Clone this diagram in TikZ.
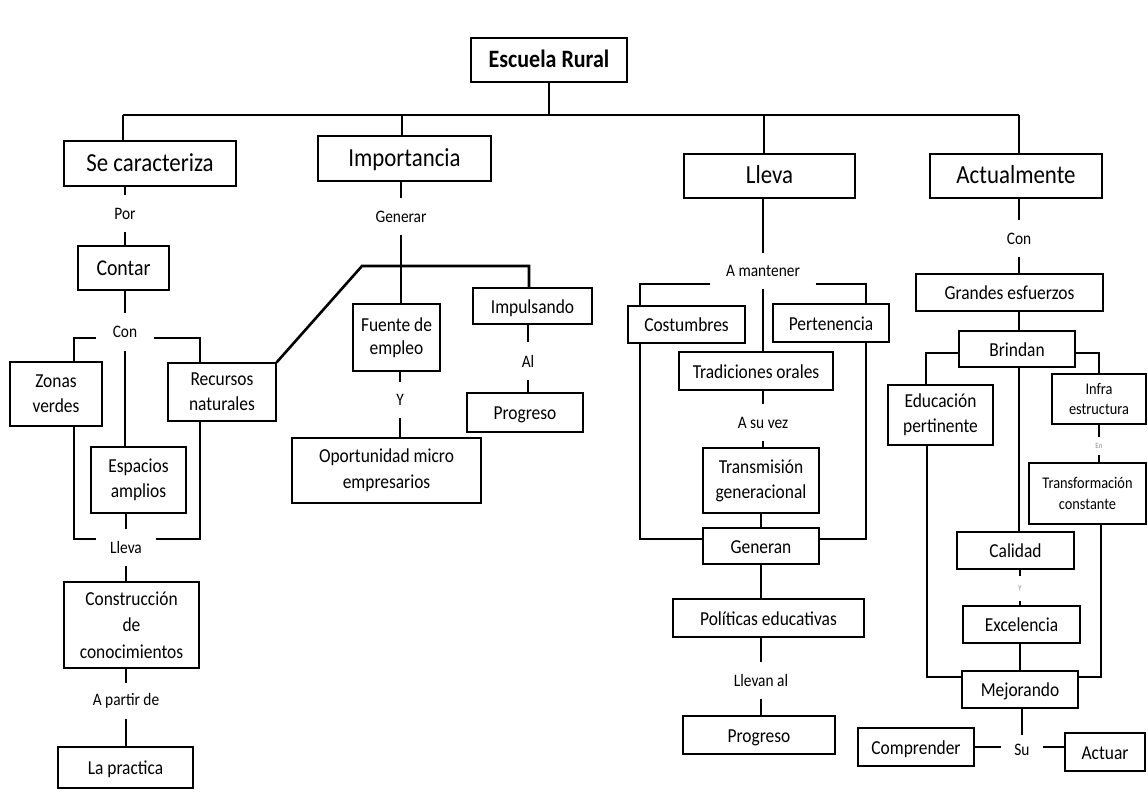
\documentclass[tikz,border=0pt]{standalone}
\usepackage{fontspec}
\setmainfont{Carlito}[FakeStretch=0.88]
\begin{document}
\begin{tikzpicture}[x=1pt,y=-1pt,
  conn/.style={line width=2.6pt, line join=miter},
  box/.style={draw, line width=1.3pt, inner sep=0pt, align=center, font=\fontsize{19.8}{25}\selectfont},
  sl/.style={text height=17pt, text depth=3pt},
  topbox/.style={box, font=\fontsize{26}{30}\selectfont, text height=20pt, text depth=5pt},
  smallbox/.style={box, font=\fontsize{16.3}{20.5}\selectfont},
  lbl/.style={inner sep=0pt, align=center, font=\fontsize{17.5}{20}\selectfont},
  tinylbl/.style={inner sep=0pt, font=\fontsize{8}{9}\selectfont, text=black!45},
  sz/.style n args={2}{minimum width=#1pt, minimum height=#2pt}]
\useasboundingbox[fill=white] (0,0) rectangle (1148,792);

% title and main bar
\node[box, font=\fontsize{25}{28}\selectfont\bfseries, text height=18pt, text depth=4pt, sz={156}{44}] (esc) at (549,60) {Escuela Rural};
\coordinate (barL) at (123,115);
\coordinate (barR) at (1019,115);
\coordinate (dimp) at (402,115);
\coordinate (dlle) at (764,115);
\draw[conn] (esc.south) -- (esc.south |- barL);
\draw[conn] (barL) -- (barR);

% ---------- column 1
\node[topbox, sz={172}{45}] (sc) at (150,163.5) {Se caracteriza};
\draw[conn] (barL) -- (barL |- sc.north);
\node[lbl, sz={30}{37}] (por) at (125,213.5) {Por};
\draw[conn] (por.north) -- (por.north |- sc.south);
\node[box, font=\fontsize{22.5}{26}\selectfont, sz={91}{44}] (contar) at (123.5,268) {Contar};
\draw[conn] (por.south) -- (por.south |- contar.north);
\node[lbl, sz={57}{38}] (con1) at (125,332) {Con};
\draw[conn] (con1.north) -- (con1.north |- contar.south);
\node[box, sz={92}{64}] (zv) at (56,394) {Zonas\\verdes};
\node[box, sz={108}{58}] (rn) at (222,392) {Recursos\\naturales};
\node[box, sz={95}{66}] (ea) at (138.5,480) {Espacios\\amplios};
\draw[conn] ([yshift=-6pt]con1.west) -| ([xshift=18pt]zv.north);
\draw[conn] ([yshift=-6pt]con1.east) -| ([xshift=-22pt]rn.north);
\draw[conn] (con1.south) -- (con1.south |- ea.north);
\node[lbl, sz={60}{37}] (lle1) at (126,547.5) {Lleva};
\draw[conn] ([xshift=18pt]zv.south) |- ([yshift=8.5pt]lle1.west);
\draw[conn] ([xshift=-22pt]rn.south) |- ([yshift=8.5pt]lle1.east);
\draw[conn] (lle1.north) -- (lle1.north |- ea.south);
\node[box, font=\fontsize{19.8}{26.5}\selectfont, sz={135}{86}] (cc) at (131.5,625) {Construcción\\de\\conocimientos};
\draw[conn] (lle1.south) -- (lle1.south |- cc.north);
\node[lbl, sz={80}{36}] (apd) at (126,701) {A partir de};
\draw[conn] (apd.north) -- (apd.north |- cc.south);
\node[box, sl, sz={135}{41}] (lp) at (125.5,767.5) {La practica};
\draw[conn] (apd.south) -- (apd.south |- lp.north);

% ---------- column 2
\node[topbox, sz={173}{45}] (imp) at (404.5,158.5) {Importancia};
\draw[conn] (dimp) -- (dimp |- imp.north);
\node[lbl, sz={60}{37}] (gen) at (401,216.5) {Generar};
\draw[conn] (gen.north) -- (gen.north |- imp.south);
\node[box, font=\fontsize{19.8}{23.5}\selectfont, sz={87}{67}] (fe) at (396.5,337.5) {Fuente de\\empleo};
\draw[conn] (gen.south) -- (gen.south |- fe.north);
\node[lbl, sz={20}{36}] (yl) at (400,400) {Y};
\draw[conn] (yl.north) -- (yl.north |- fe.south);
\node[box, font=\fontsize{19.8}{26}\selectfont, sz={189}{65}] (ome) at (386.5,470.5) {Oportunidad micro\\empresarios};
\draw[conn] (yl.south) -- (yl.south |- ome.north);
\node[box, sl, sz={119}{36}] (imp2) at (532.5,306) {Impulsando};
\node[lbl, sz={20}{38}] (al) at (528,361) {Al};
\draw[conn] (al.north) -- (al.north |- imp2.south);
\node[box, sl, sz={116}{39}] (prog1) at (525,412.5) {Progreso};
\draw[conn] (al.south) -- (al.south |- prog1.north);
\coordinate (gbL) at (362,266);
\coordinate (gbR) at (529,266);
\draw[conn] (rn.north east) -- (gbL) -- (gbR) -- (gbR |- imp2.north);

% ---------- column 3
\node[topbox, sz={171}{44}] (lle) at (769.5,176) {Lleva};
\draw[conn] (dlle) -- (dlle |- lle.north);
\node[lbl, sz={105}{36}] (am) at (763,271) {A mantener};
\draw[conn] (am.north) -- (am.north |- lle.south);
\node[box, sl, sz={117}{37}] (cos) at (686.5,324.5) {Costumbres};
\node[box, sl, sz={116}{38}] (per) at (831,323) {Pertenencia};
\draw[conn] ([yshift=-13pt]am.west) -| ([xshift=-46.5pt]cos.north);
\draw[conn] ([yshift=-13pt]am.east) -| ([xshift=35pt]per.north);
\node[box, sl, sz={154}{38}] (tra) at (756,371) {Tradiciones orales};
\draw[conn] (am.south) -- (am.south |- tra.north);
\node[lbl, sz={60}{37}] (asv) at (763,422.5) {A su vez};
\draw[conn] (asv.north) -- (asv.north |- tra.south);
\node[box, sz={116}{65}] (tg) at (761,480.5) {Transmisión\\generacional};
\draw[conn] (asv.south) -- (asv.south |- tg.north);
\node[box, sl, sz={116}{36}] (gnr) at (761,546) {Generan};
\draw[conn] (gnr.north) -- (gnr.north |- tg.south);
\draw[conn] ([xshift=-46.5pt]cos.south) |- ([yshift=7pt]gnr.west);
\draw[conn] ([xshift=35pt]per.south) |- ([yshift=7pt]gnr.east);
\node[box, sl, sz={191}{38}] (pe) at (768.5,618) {Políticas educativas};
\draw[conn] (gnr.south) -- (gnr.south |- pe.north);
\node[lbl, sz={70}{37}] (lla) at (761,680.5) {Llevan al};
\draw[conn] (lla.north) -- (lla.north |- pe.south);
\node[box, sl, sz={152}{38}] (prog2) at (759,735) {Progreso};
\draw[conn] (lla.south) -- (lla.south |- prog2.north);

% ---------- column 4
\node[topbox, sz={172}{44}] (act) at (1016,176) {Actualmente};
\draw[conn] (barR) -- (barR |- act.north);
\node[lbl, sz={30}{37}] (con2) at (1019,238.5) {Con};
\draw[conn] (con2.north) -- (con2.north |- act.south);
\node[box, sl, sz={187}{37}] (ge) at (1009.5,292.5) {Grandes esfuerzos};
\draw[conn] (con2.south) -- (con2.south |- ge.north);
\node[box, sl, sz={116}{36}] (br) at (1017,349) {Brindan};
\draw[conn] (con2.south |- ge.south) -- (con2.south |- br.north);
\node[box, sz={105}{60}] (ep) at (940.5,415) {Educación\\pertinente};
\node[smallbox, sz={94}{50}] (inf) at (1099,399) {Infra\\estructura};
\draw[conn] ([yshift=-4pt]br.west) -| ([xshift=-14.5pt]ep.north);
\draw[conn] ([yshift=-4pt]br.east) -| (inf.north);
\node[tinylbl, sz={12}{18}] (en) at (1099,446) {En};
\draw[conn] (en.north) -- (en.north |- inf.south);
\node[smallbox, sz={117}{61}] (tc) at (1087.5,493.5) {Transformación\\constante};
\draw[conn] (en.south) -- (en.south |- tc.north);
\node[box, sl, sz={117}{37}] (cal) at (1015.5,550.5) {Calidad};
\draw[conn] (con2.south |- br.south) -- (con2.south |- cal.north);
\node[tinylbl, sz={10}{25}] (yy) at (1020,588.5) {y};
\draw[conn] (yy.north) -- (yy.north |- cal.south);
\node[box, sl, sz={117}{37}] (exc) at (1021.5,624.5) {Excelencia};
\draw[conn] (yy.south) -- (yy.south |- exc.north);
\node[box, sl, sz={116}{37}] (mej) at (1020,689.5) {Mejorando};
\draw[conn] (mej.north) -- (mej.north |- exc.south);
\draw[conn] ([xshift=-13.5pt]ep.south) |- ([yshift=12.5pt]mej.west);
\draw[conn] ([xshift=13.5pt]tc.south) |- ([yshift=12.5pt]mej.east);
\node[lbl, sz={42}{30}] (su) at (1022,750) {Su};
\draw[conn] (su.north) -- (su.north |- mej.south);
\node[box, sl, sz={116}{38}] (comp) at (916,747) {Comprender};
\node[box, sl, sz={80}{38}] (actu) at (1105,752) {Actuar};
\draw[conn] (comp.east) -- (comp.east -| su.west);
\draw[conn] (actu.west |- comp.east) -- (su.east |- comp.east);
\end{tikzpicture}
\end{document}
